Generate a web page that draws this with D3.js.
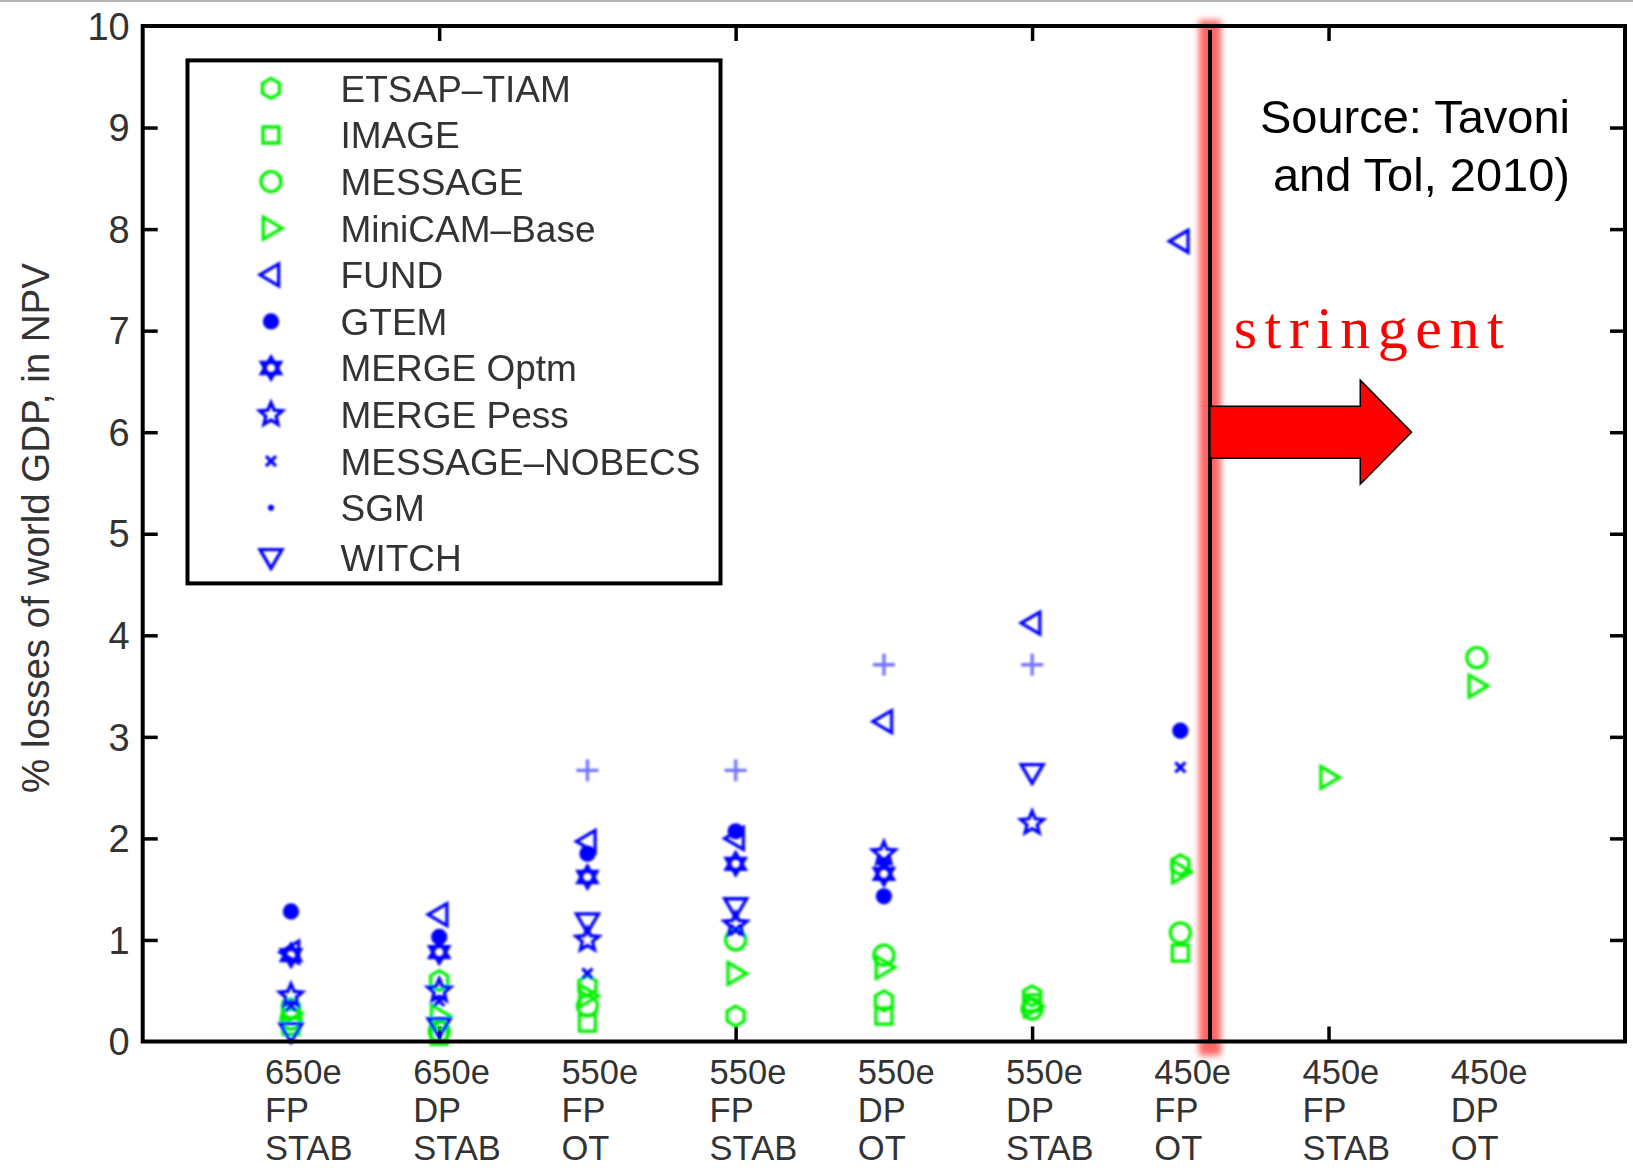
<!DOCTYPE html>
<html>
<head>
<meta charset="utf-8">
<script src="https://cdn.jsdelivr.net/npm/d3@7"></script>
<style>
  body { margin: 0; background: #fff; overflow: hidden; }
  svg { display: block; }
</style>
</head>
<body>
<div id="chart"></div>
<script>
// scenarios on the x axis
const categories = ["650e FP STAB", "650e DP STAB", "550e FP OT", "550e FP STAB",
  "550e DP OT", "550e DP STAB", "450e FP OT", "450e FP STAB", "450e DP OT"];

const models = ["ETSAP\u2013TIAM", "IMAGE", "MESSAGE", "MiniCAM\u2013Base", "FUND", "GTEM",
  "MERGE Optm", "MERGE Pess", "MESSAGE\u2013NOBECS", "SGM", "WITCH"];

// % losses of world GDP per model, one value per scenario (null = no run)
const etsapTiam = [0.32, 0.60, 0.55, 0.25, 0.40, 0.45, 1.74, null, null];
const image     = [0.15, 0.05, 0.18, null, 0.25, 0.38, 0.87, null, null];
const message   = [0.22, 0.10, 0.35, 1.00, 0.85, 0.32, 1.07, null, 3.78];
const miniCam   = [0.28, 0.25, 0.45, 0.67, 0.73, 0.35, 1.67, 2.60, 3.50];
const fund      = [0.88, 1.25, 1.97, 2.00, 3.15, 4.12, 7.88, null, null];
const gtem      = [1.28, 1.03, 1.85, 2.07, 1.43, null, 3.06, null, null];
const mergeOptm = [0.85, 0.88, 1.62, 1.75, 1.65, null, null, null, null];
const mergePess = [0.45, 0.50, 1.00, 1.15, 1.85, 2.15, null, null, null];
const nobecs    = [0.35, 0.40, 0.67, 1.10, 1.78, null, 2.70, null, null];
const sgm       = [null, null, 2.67, 2.67, 3.71, 3.71, null, null, null];
const witch     = [0.10, 0.15, 1.18, 1.33, null, 2.65, null, null, null];

const seriesValues = [etsapTiam, image, message, miniCam, fund, gtem,
  mergeOptm, mergePess, nobecs, sgm, witch];

const yTicks = [0, 1, 2, 3, 4, 5, 6, 7, 8, 9, 10];

// annotation (in axis units)
const divider = 3.6;
const sourceLines = ["Source: Tavoni", "and Tol, 2010)"];

// ---------- layout ----------
const width = 1633, height = 1168;
const margin = { top: 26, right: 8, bottom: 126.5, left: 142.7 };
const innerWidth = width - margin.left - margin.right;
const innerHeight = height - margin.top - margin.bottom;

const green = "#00f000", blue = "#0000ff";
const textGrey = "#333";

// marker shapes
const shapes = {
  hexv: r => `M0,${-r}L${0.85*r},${-0.5*r}L${0.85*r},${0.5*r}L0,${r}L${-0.85*r},${0.5*r}L${-0.85*r},${-0.5*r}Z`,
  square: r => `M${-r},${-r}H${r}V${r}H${-r}Z`,
  circle: r => `M${r},0A${r},${r} 0 1,1 ${-r},0A${r},${r} 0 1,1 ${r},0Z`,
  triR: r => `M${-0.7*r},${-r}L${r},0L${-0.7*r},${r}Z`,
  triL: r => `M${0.7*r},${-r}L${-r},0L${0.7*r},${r}Z`,
  triD: r => `M${-r},${-0.7*r}H${r}L0,${r}Z`,
  star6: r => {
    const a = [], b = [];
    for (let i = 0; i < 3; i++) {
      const t1 = -Math.PI / 2 + i * 2 * Math.PI / 3;
      const t2 = Math.PI / 2 + i * 2 * Math.PI / 3;
      a.push([r * Math.cos(t1), r * Math.sin(t1)]);
      b.push([r * Math.cos(t2), r * Math.sin(t2)]);
    }
    return "M" + a.join("L") + "Z" + "M" + b.join("L") + "Z";
  },
  star5: r => {
    const pts = [];
    for (let i = 0; i < 10; i++) {
      const rr = i % 2 ? r * 0.45 : r;
      const t = -Math.PI / 2 + i * Math.PI / 5;
      pts.push([rr * Math.cos(t), rr * Math.sin(t)]);
    }
    return "M" + pts.join("L") + "Z";
  },
  cross: r => `M${-r},${-r}L${r},${r}M${r},${-r}L${-r},${r}`,
  plus: r => `M${-r},0H${r}M0,${-r}V${r}`
};

const markerStyle = [
  { shape: "hexv",   r: 10, color: green, fill: "none" },
  { shape: "square", r: 8,  color: green, fill: "none" },
  { shape: "circle", r: 10, color: green, fill: "none" },
  { shape: "triR",   r: 11, color: green, fill: "none" },
  { shape: "triL",   r: 11, color: blue,  fill: "none" },
  { shape: "circle", r: 6.5, color: blue, fill: blue },
  { shape: "star6",  r: 11, color: blue,  fill: "none" },
  { shape: "star5",  r: 12, color: blue,  fill: "none" },
  { shape: "cross",  r: 5,  color: blue,  fill: "none" },
  { shape: "plus",   r: 11, color: blue,  fill: "none", opacity: 0.55, legendR: 3 },
  { shape: "triD",   r: 11, color: blue,  fill: "none" }
];

// ---------- scales ----------
const xScale = d3.scalePoint()
  .domain(categories)
  .range([0, innerWidth])
  .padding(1);

const xUnits = d3.scaleLinear().domain([0, 5]).range([0, innerWidth]);

const yScale = d3.scaleLinear()
  .domain([0, 10])
  .range([innerHeight, 0]);

const svg = d3.select("#chart")
  .append("svg")
  .attr("width", width)
  .attr("height", height)
  .style("font-family", "'Liberation Sans', Arial, sans-serif");

const defs = svg.append("defs");
defs.append("filter").attr("id", "soft")
  .attr("x", "-50%").attr("y", "-50%").attr("width", "200%").attr("height", "200%")
  .append("feGaussianBlur").attr("stdDeviation", 0.85);
defs.append("filter").attr("id", "glow")
  .attr("x", "-100%").attr("y", "-5%").attr("width", "300%").attr("height", "110%")
  .append("feGaussianBlur").attr("stdDeviation", 3);

// thin grey rule along the top of the picture
svg.append("line")
  .attr("x1", 0).attr("x2", width).attr("y1", 1).attr("y2", 1)
  .attr("stroke", "#b4b4b4").attr("stroke-width", 2);

const innerChart = svg.append("g")
  .attr("transform", `translate(${margin.left},${margin.top})`);

// ---------- axes (ticks point inward) ----------
const tickCats = categories.filter((d, i) => i % 2 === 1);

innerChart.append("g")
  .attr("transform", `translate(0,${innerHeight})`)
  .call(d3.axisBottom(xScale).tickValues(tickCats).tickSize(-15).tickFormat(""))
  .call(g => g.select(".domain").remove());

innerChart.append("g")
  .call(d3.axisTop(xScale).tickValues(tickCats).tickSize(-15).tickFormat(""))
  .call(g => g.select(".domain").remove());

innerChart.append("g")
  .call(d3.axisLeft(yScale).tickValues(yTicks.slice(1, -1)).tickSize(-15).tickFormat(""))
  .call(g => g.select(".domain").remove());

innerChart.append("g")
  .attr("transform", `translate(${innerWidth},0)`)
  .call(d3.axisRight(yScale).tickValues(yTicks.slice(1, -1)).tickSize(-15).tickFormat(""))
  .call(g => g.select(".domain").remove());

innerChart.selectAll(".tick line")
  .attr("stroke", "#000").attr("stroke-width", 3.5);

// y tick labels
const tickFont = 38;
innerChart.append("g")
  .selectAll("text")
  .data(yTicks)
  .join("text")
    .attr("x", -13)
    .attr("y", d => yScale(d) + tickFont * 0.36)
    .attr("text-anchor", "end")
    .attr("font-size", tickFont)
    .attr("fill", textGrey)
    .text(d => d);

// x tick labels: three separate lines under each scenario
const labelLines = categories.flatMap(c =>
  c.split(" ").map((part, i) => ({ category: c, line: i, text: part })));

innerChart.append("g")
  .selectAll("text")
  .data(labelLines)
  .join("text")
    .attr("x", d => xScale(d.category) - 26)
    .attr("y", d => innerHeight + 42 + d.line * 38)
    .attr("font-size", 34.5)
    .attr("fill", textGrey)
    .text(d => d.text);

// y axis title
svg.append("text")
  .attr("transform", `translate(49,${528}) rotate(-90)`)
  .attr("text-anchor", "middle")
  .attr("font-size", 38.5)
  .attr("fill", textGrey)
  .text("% losses of world GDP, in NPV");

// ---------- markers ----------
const points = [];
seriesValues.forEach((vals, m) => {
  vals.forEach((v, c) => {
    if (v !== null) points.push({ model: m, category: categories[c], value: v });
  });
});

innerChart.append("g")
  .attr("filter", "url(#soft)")
  .selectAll("path")
  .data(points)
  .join("path")
    .attr("transform", d => `translate(${xScale(d.category)},${yScale(d.value)})`)
    .attr("d", d => shapes[markerStyle[d.model].shape](markerStyle[d.model].r))
    .attr("fill", d => markerStyle[d.model].fill)
    .attr("stroke", d => markerStyle[d.model].color)
    .attr("stroke-opacity", d => markerStyle[d.model].opacity || 1)
    .attr("stroke-width", 3.3);

// ---------- legend ----------
const legendFont = 37;
const legend = svg.append("g").attr("transform", "translate(187.5,60.4)");
legend.append("rect")
  .attr("width", 533).attr("height", 523)
  .attr("fill", "none").attr("stroke", "#000").attr("stroke-width", 4);

const legendRows = legend.selectAll(".row")
  .data(models)
  .join("g")
    .attr("class", "row")
    .attr("transform", (d, i) => `translate(0,${28 + i * 46.6 + (i === 10 ? 3 : 0)})`);

legendRows.append("path")
  .attr("filter", "url(#soft)")
  .attr("transform", "translate(83.5,0)")
  .attr("d", (d, i) => shapes[markerStyle[i].shape](markerStyle[i].legendR || markerStyle[i].r))
  .attr("fill", (d, i) => markerStyle[i].fill)
  .attr("stroke", (d, i) => markerStyle[i].color)
  .attr("stroke-width", (d, i) => markerStyle[i].legendR ? 3.5 : 3.3);

legendRows.append("text")
  .attr("x", 153)
  .attr("y", legendFont * 0.36)
  .attr("font-size", legendFont)
  .attr("fill", textGrey)
  .text(d => d);

// ---------- annotations ----------
const xDiv = xUnits(divider);

// soft red glow behind the divider
innerChart.append("rect")
  .attr("x", xDiv - 11).attr("width", 22)
  .attr("y", -6).attr("height", innerHeight + 20)
  .attr("fill", "#ff4a4a").attr("fill-opacity", 0.85)
  .attr("filter", "url(#glow)");

// plot frame
innerChart.append("rect")
  .attr("width", innerWidth).attr("height", innerHeight)
  .attr("fill", "none").attr("stroke", "#000").attr("stroke-width", 4);

innerChart.append("line")
  .attr("x1", xDiv).attr("x2", xDiv)
  .attr("y1", 4).attr("y2", innerHeight)
  .attr("stroke", "#000").attr("stroke-width", 4);

// arrow pointing to the stringent side
const arrowY = yScale(6), bodyH = 26, headH = 52;
const headBase = xUnits(4.107), tip = xUnits(4.28);
innerChart.append("path")
  .attr("d", `M${xDiv},${arrowY - bodyH}H${headBase}V${arrowY - headH}L${tip},${arrowY}` +
    `L${headBase},${arrowY + headH}V${arrowY + bodyH}H${xDiv}Z`)
  .attr("fill", "#ff0000").attr("stroke", "#000").attr("stroke-width", 1.5);

innerChart.append("text")
  .attr("x", xUnits(3.68))
  .attr("y", yScale(6.83))
  .attr("font-family", "'Liberation Serif', 'Times New Roman', serif")
  .attr("font-size", 60)
  .attr("letter-spacing", 7.5)
  .attr("fill", "#ff0000")
  .text("stringent");

svg.append("g")
  .selectAll("text")
  .data(sourceLines)
  .join("text")
    .attr("x", 1570)
    .attr("y", (d, i) => 133 + i * 58)
    .attr("text-anchor", "end")
    .attr("font-size", 47)
    .attr("fill", "#000")
    .text(d => d);
</script>
</body>
</html>
